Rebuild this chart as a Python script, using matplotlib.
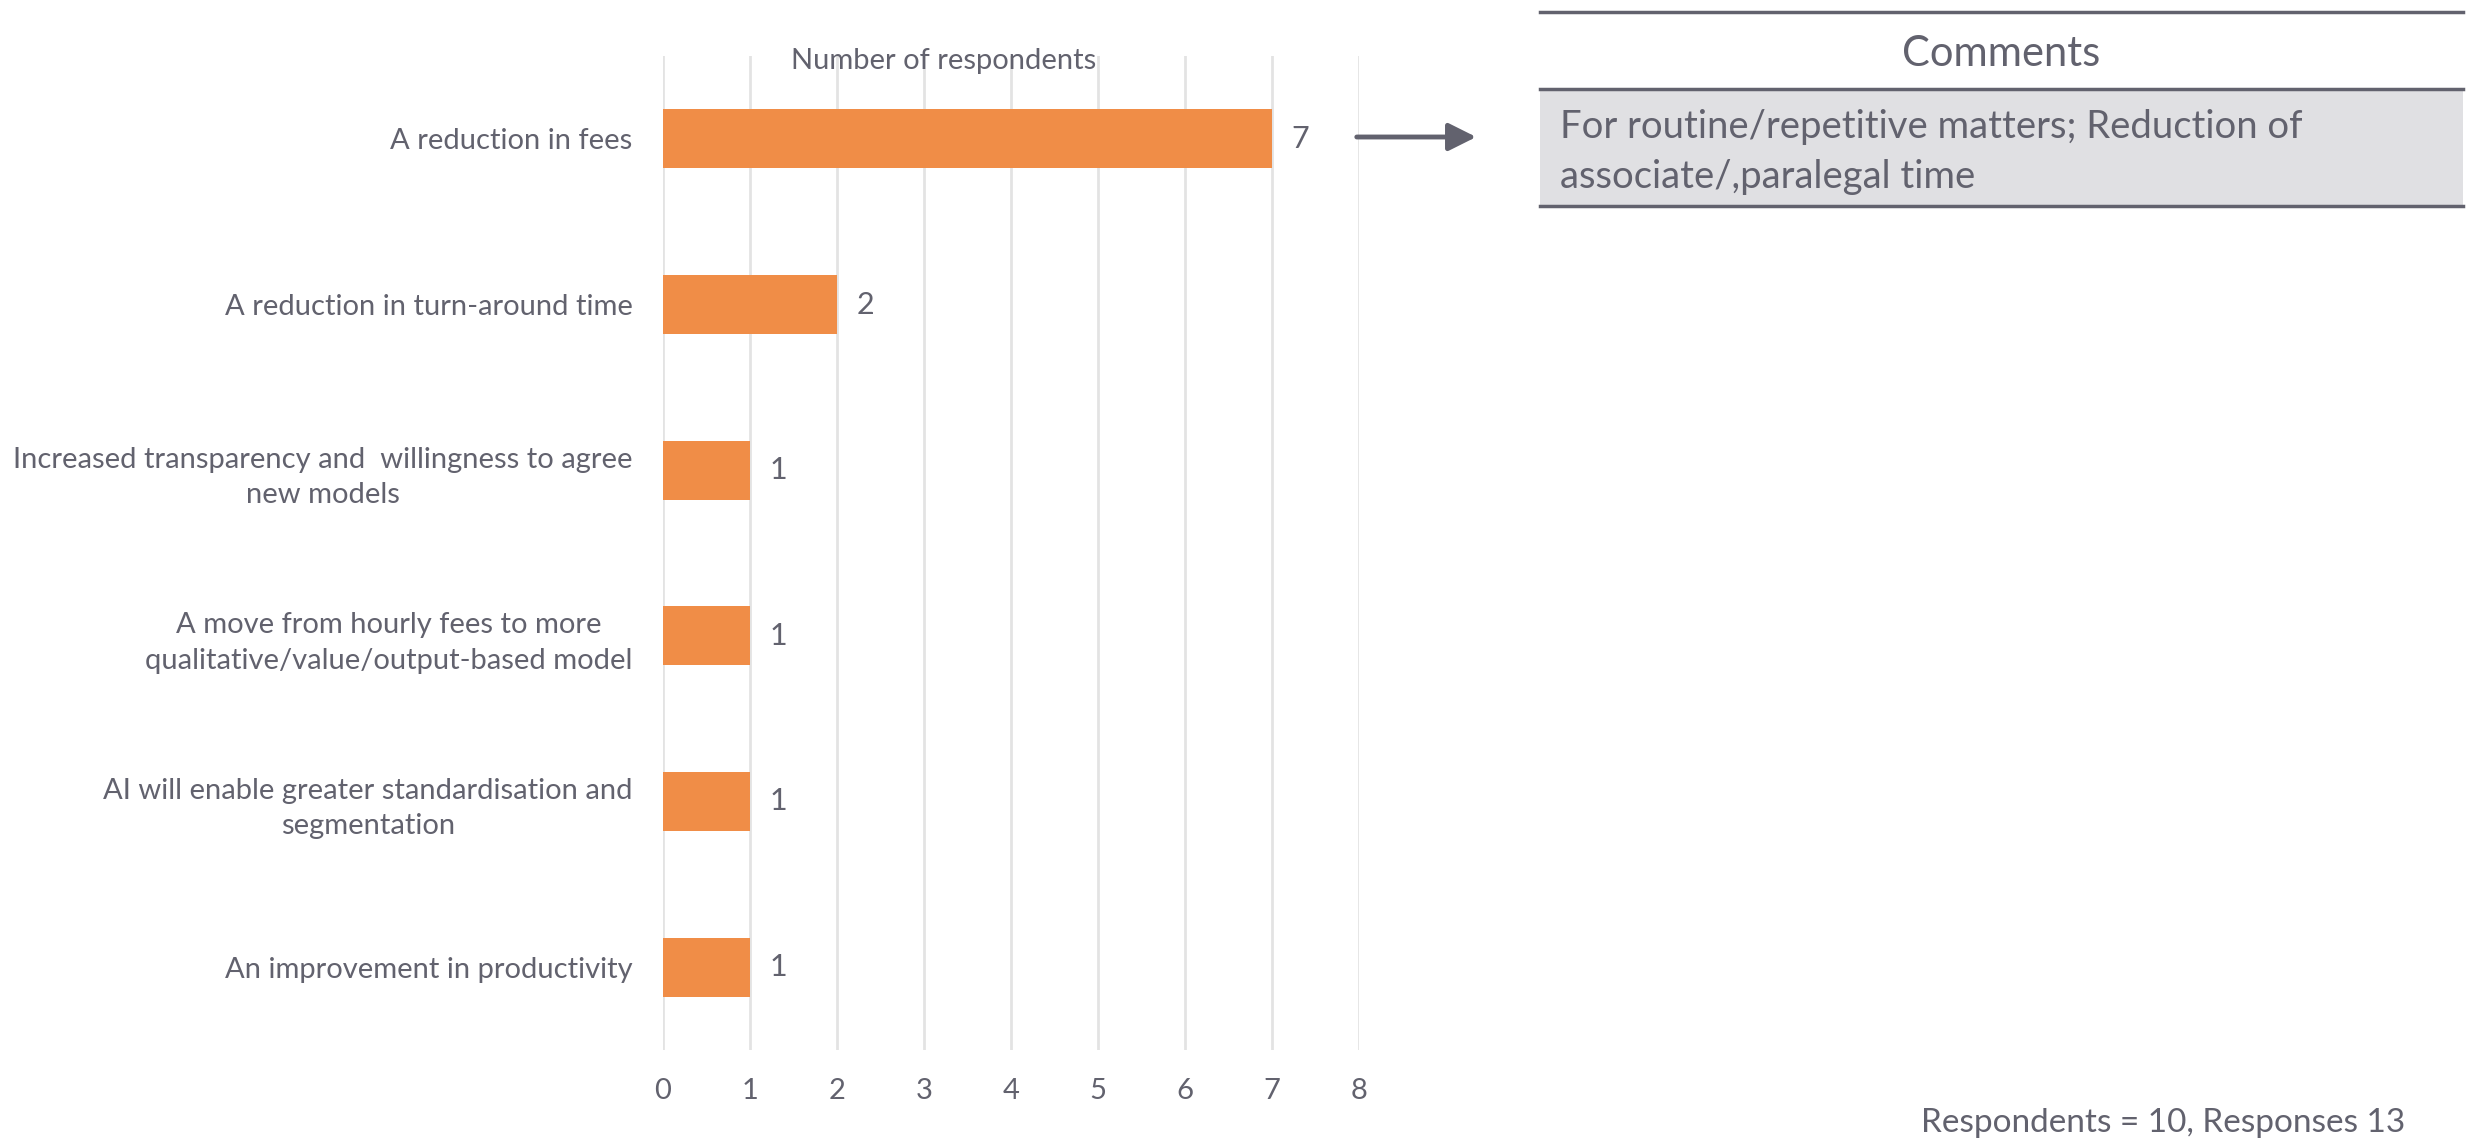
import matplotlib
matplotlib.use("Agg")
import matplotlib.pyplot as plt
from matplotlib.patches import Rectangle, FancyArrowPatch

# Chart data
categories = [
    "A reduction in fees",
    "A reduction in turn-around time",
    "Increased transparency and  willingness to agree\nnew models",
    "A move from hourly fees to more\nqualitative/value/output-based model",
    "AI will enable greater standardisation and\nsegmentation",
    "An improvement in productivity",
]
counts = [7, 2, 1, 1, 1, 1]
x_ticks = [0, 1, 2, 3, 4, 5, 6, 7, 8]

axis_title = "Number of respondents"
comment_header = "Comments"
comment_text = "For routine/repetitive matters; Reduction of\nassociate/,paralegal time"
footnote = "Respondents = 10, Responses 13"

TEXT = "#62626e"
BAR = "#f08d47"
GRID = "#e3e3e3"

plt.rcParams["font.family"] = ["Lato", "DejaVu Sans"]

W, H = 2483, 1142
fig = plt.figure(figsize=(W / 100, H / 100), dpi=100)

# plot area in pixels: x 663..1359, y 56..1050
ax = fig.add_axes([663 / W, 1 - 1050 / H, (1359 - 663) / W, (1050 - 56) / H])
ypos = list(range(len(categories)))
ax.barh(ypos, counts, height=0.355, color=BAR, zorder=3)
ax.set_ylim(len(categories) - 0.5, -0.5)
ax.set_xlim(0, 8)
ax.set_xticks(x_ticks)
ax.set_xticklabels([str(t) for t in x_ticks], fontsize=21, color=TEXT)
ax.set_yticks(ypos)
ax.set_yticklabels(categories, fontsize=21, color=TEXT,
                   multialignment="center", linespacing=1.45)
ax.tick_params(axis="x", length=0, pad=20)
ax.tick_params(axis="y", length=0, pad=22)
for s in ax.spines.values():
    s.set_visible(False)
ax.grid(axis="x", color=GRID, linewidth=2, zorder=0)

for y, v in zip(ypos, counts):
    ax.annotate(str(v), (v, y), xytext=(14, 0), textcoords="offset points",
                va="center", ha="left", fontsize=22, color=TEXT)

fig.text(944 / W, 1 - 61 / H, axis_title, ha="center", va="center",
         fontsize=21, color=TEXT)

# arrow from the top bar to the comment box
fig.add_artist(FancyArrowPatch(
    (1354 / W, 1 - 137 / H), (1479 / W, 1 - 137 / H),
    transform=fig.transFigure, arrowstyle="-|>,head_length=1.2,head_width=0.6",
    mutation_scale=14, color=TEXT, linewidth=3.5))

# comment box
bx0, bx1 = 1540 / W, 2463 / W
fig.add_artist(Rectangle((bx0, 1 - 206 / H), bx1 - bx0, (206 - 89) / H,
                         transform=fig.transFigure, facecolor="#e0e0e3",
                         edgecolor="none"))
for yy in (12, 89, 206):
    fig.add_artist(plt.Line2D([bx0, bx1], [1 - yy / H, 1 - yy / H],
                              transform=fig.transFigure, color=TEXT, linewidth=2.5))
fig.text((bx0 + bx1) / 2, 1 - 54 / H, comment_header, ha="center", va="center",
         fontsize=30, color=TEXT)
fig.text(1560 / W, 1 - 152 / H, comment_text, ha="left", va="center",
         fontsize=27.5, color=TEXT, linespacing=1.5)

fig.text(2405 / W, 1 - 1123 / H, footnote, ha="right", va="center",
         fontsize=24, color=TEXT)

fig.savefig("out.png", dpi=100)
